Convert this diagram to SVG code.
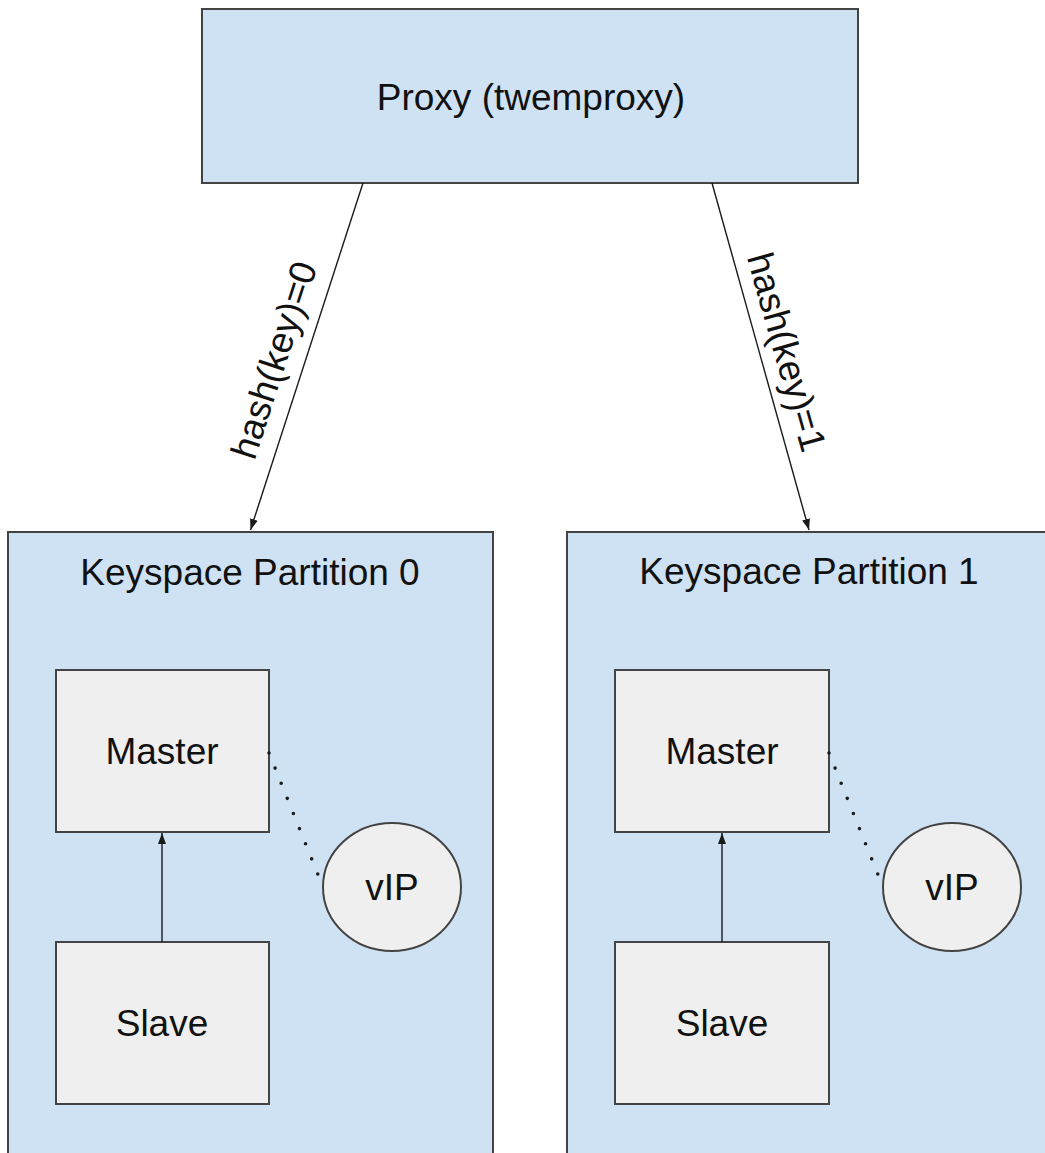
<svg xmlns="http://www.w3.org/2000/svg" width="1045" height="1153" viewBox="0 0 1045 1153">
<style>
.blue{fill:#cfe2f3;stroke:#434343;stroke-width:2}
.grey{fill:#efefef;stroke:#434343;stroke-width:2}
.lbl{font-family:"Liberation Sans",Arial,sans-serif;font-size:37px;fill:#111111;text-anchor:middle}
.edge{stroke:#1a1a1a;stroke-width:1.4;fill:none}
.dot{stroke:#1a1a1a;stroke-width:3.6;fill:none;stroke-linecap:round;stroke-dasharray:0 16.3}
</style>
<defs>
<marker id="arr" markerUnits="userSpaceOnUse" markerWidth="12" markerHeight="12" viewBox="0 0 12 12" refX="11" refY="6" orient="auto">
<path d="M0,2 L11,6 L0,10 Z" fill="#1a1a1a"/>
</marker>
</defs>
<rect width="1045" height="1153" fill="#ffffff"/>
<g id="proxy">
<rect class="blue" x="202" y="9" width="656" height="174"/>
<text class="lbl" x="531" y="110">Proxy (twemproxy)</text>
</g>
<g id="partition0">
<rect class="blue" x="8" y="532" width="485" height="640"/>
<text class="lbl" x="250" y="585">Keyspace Partition 0</text>
</g>
<g id="partition1">
<rect class="blue" x="567" y="532" width="490" height="640"/>
<text class="lbl" x="809" y="584">Keyspace Partition 1</text>
</g>
<g id="master0">
<rect class="grey" x="56" y="670" width="213" height="162"/>
<text class="lbl" x="162" y="764">Master</text>
</g>
<g id="slave0">
<rect class="grey" x="56" y="942" width="213" height="162"/>
<text class="lbl" x="162" y="1036">Slave</text>
</g>
<g id="vip0">
<ellipse class="grey" cx="392" cy="887" rx="69" ry="64"/>
<text class="lbl" x="392" y="900">vIP</text>
</g>
<g id="master1">
<rect class="grey" x="615" y="670" width="214" height="162"/>
<text class="lbl" x="722" y="764">Master</text>
</g>
<g id="slave1">
<rect class="grey" x="615" y="942" width="214" height="162"/>
<text class="lbl" x="722" y="1036">Slave</text>
</g>
<g id="vip1">
<ellipse class="grey" cx="952" cy="887" rx="69" ry="64"/>
<text class="lbl" x="952" y="900">vIP</text>
</g>
<g id="connectors">
<line class="edge" x1="363" y1="183" x2="250.5" y2="530" marker-end="url(#arr)"/>
<text class="lbl" x="286" y="364" transform="rotate(-72 286 364)">hash(key)=0</text>
<line class="edge" x1="712" y1="183" x2="809" y2="530" marker-end="url(#arr)"/>
<text class="lbl" x="774.5" y="355.5" transform="rotate(74.2 774.5 355.5)">hash(key)=1</text>
<line class="edge" x1="162" y1="942" x2="162" y2="833" marker-end="url(#arr)"/>
<line class="edge" x1="722" y1="942" x2="722" y2="833" marker-end="url(#arr)"/>
<line class="dot" x1="269" y1="753" x2="323" y2="887"/>
<line class="dot" x1="829" y1="753" x2="883" y2="887"/>
</g>
</svg>
